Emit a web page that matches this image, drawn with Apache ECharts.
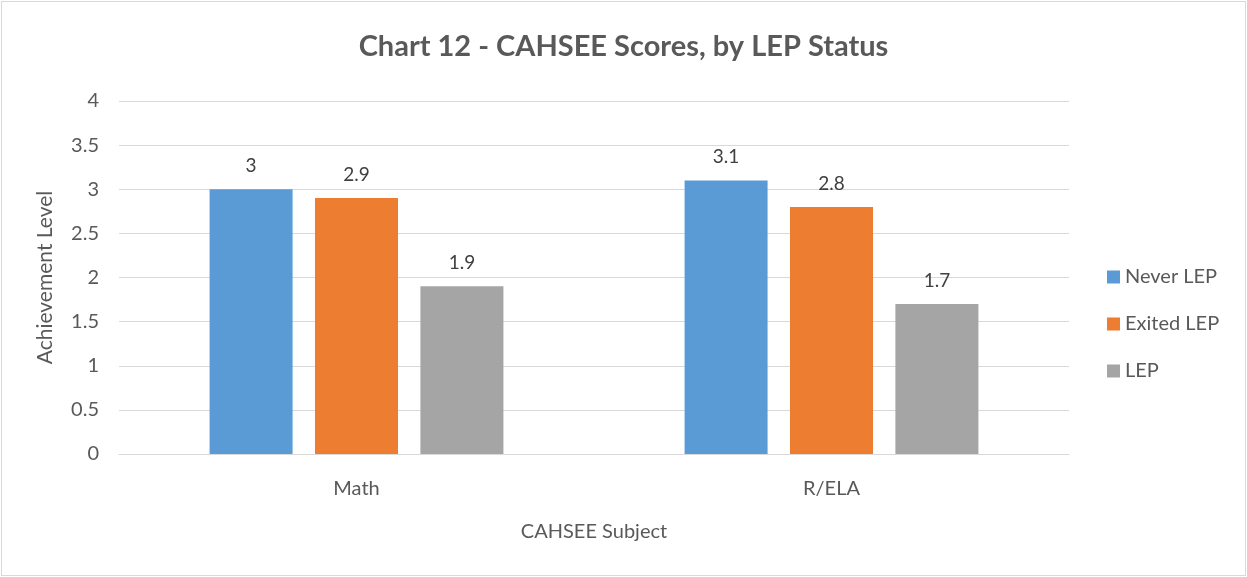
<!DOCTYPE html>
<html>
<head>
<meta charset="utf-8">
<script src="https://cdn.jsdelivr.net/npm/echarts@6/dist/echarts.min.js"></script>
<style>
  html, body { margin: 0; padding: 0; background: #fff; }
  #chart { width: 1243px; height: 573px; margin: 1px 0 0 1px; border: 1px solid #d9d9d9; }
</style>
</head>
<body>
<div id="chart"></div>
<script>
// 数据
const subjects = ['Math', 'R/ELA'];
const neverLep = [3, 3.1];
const exitedLep = [2.9, 2.8];
const lep = [1.9, 1.7];

const font = 'Lato, "Open Sans", sans-serif';
const label = { show: true, position: 'top', distance: 14, color: '#404040', fontSize: 19, fontFamily: font };

const chart = echarts.init(document.getElementById('chart'));
chart.setOption({
  backgroundColor: '#fff',
  animation: false,
  title: {
    text: 'Chart 12 - CAHSEE Scores, by LEP Status',
    left: 'center', top: 25,
    textStyle: { color: '#595959', fontSize: 29, fontWeight: 'bold', fontFamily: font }
  },
  legend: {
    orient: 'vertical', left: 1100, top: 260,
    itemWidth: 13, itemHeight: 13, itemGap: 27,
    icon: 'rect',
    textStyle: { color: '#595959', fontSize: 20, fontFamily: font }
  },
  grid: { left: 117, top: 99, width: 950, height: 353 },
  xAxis: {
    type: 'category', data: subjects,
    name: 'CAHSEE Subject', nameLocation: 'middle', nameGap: 68,
    nameTextStyle: { color: '#595959', fontSize: 20, fontFamily: font },
    axisLine: { lineStyle: { color: '#d9d9d9' } },
    axisTick: { show: false },
    axisLabel: { color: '#595959', fontSize: 20, fontFamily: font, margin: 25 }
  },
  yAxis: {
    type: 'value', min: 0, max: 4, interval: 0.5,
    name: 'Achievement Level', nameLocation: 'middle', nameGap: 63,
    nameTextStyle: { color: '#595959', fontSize: 21, fontFamily: font },
    axisLine: { show: false },
    axisLabel: { color: '#595959', fontSize: 20, fontFamily: font, margin: 20 },
    splitLine: { lineStyle: { color: '#d9d9d9' } }
  },
  series: [
    { name: 'Never LEP', type: 'bar', data: neverLep, barWidth: 83, barGap: '27%', itemStyle: { color: '#5b9bd5' }, label },
    { name: 'Exited LEP', type: 'bar', data: exitedLep, barWidth: 83, barGap: '27%', itemStyle: { color: '#ed7d31' }, label },
    { name: 'LEP', type: 'bar', data: lep, barWidth: 83, barGap: '27%', itemStyle: { color: '#a5a5a5' }, label }
  ]
});
</script>
</body>
</html>
